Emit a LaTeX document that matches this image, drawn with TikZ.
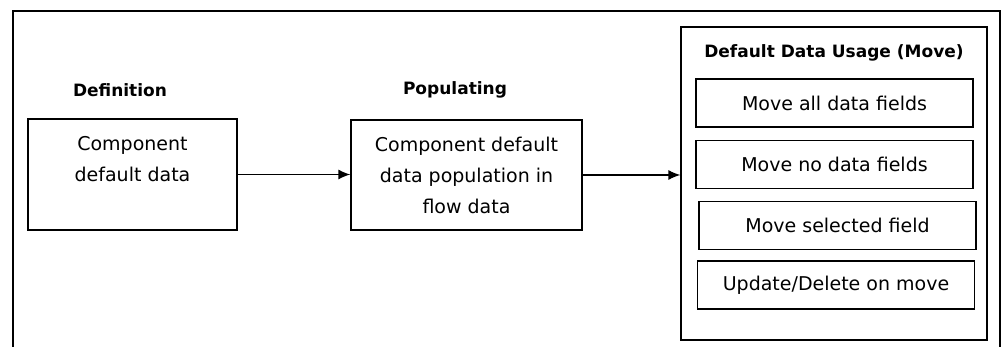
\documentclass[tikz,border=0pt]{standalone}
\usepackage{fontspec}
\setmainfont{DejaVu Sans}
\usetikzlibrary{arrows.meta}
\tikzset{
	box/.style={draw, line width=1.3pt, align=center, inner sep=0pt, font=\fontsize{19}{31}\selectfont},
	fieldbox/.style={box, minimum width=277, minimum height=48},
	heading/.style={font=\fontsize{17}{20}\selectfont\bfseries},
	flow/.style={line width=1.3pt, -{Latex[length=12pt,width=10pt]}}
}
\begin{document}
\begin{tikzpicture}[x=1pt,y=-1pt]
		\useasboundingbox (0,0) rectangle (1003,347);
		% outer frame, open at the bottom
		\draw[line width=1.3pt] (13,347) -- (13,11) -- (1000,11) -- (1000,347);
		\node[heading] (defhead) at (120,90) {Definition};
		\node[heading] (pophead) at (455,90) {Populating};
		\node[box, minimum width=209, minimum height=111] (comp) at (132.5,174.5) {Component\\default data\\\phantom{x}};
		\node[box, minimum width=231, minimum height=110] (pop) at (466.5,175) {Component default\\data population in\\flow data};
		\node[box, minimum width=306, minimum height=313] (usage) at (834,183.5) {};
		\node[heading] (usagehead) at (834,53) {Default Data Usage (Move)};
		\node[fieldbox] (all) at (834.5,103) {Move all data fields};
		\node[fieldbox] (none) at (834.5,164.5) {Move no data fields};
		\node[fieldbox] (sel) at (837.5,225.5) {Move selected field};
		\node[fieldbox] (upd) at (836,285) {Update/Delete on move};
		\draw[flow] (comp.east) -- (comp.east -| pop.west);
		\draw[flow] (pop.east) -- (pop.east -| usage.west);
\end{tikzpicture}
\end{document}
